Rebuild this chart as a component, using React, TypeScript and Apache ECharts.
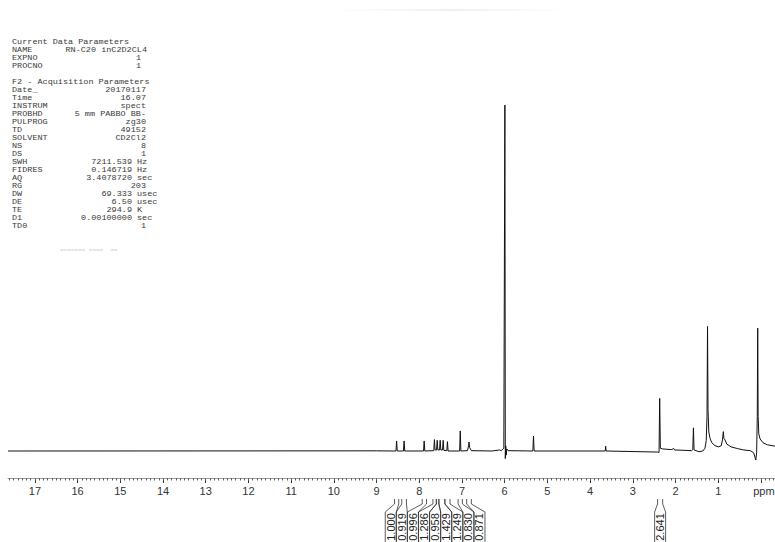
import React, { useEffect, useRef } from "react";
import * as echarts from "echarts";

// ---- Spectrum (chemical shift in ppm, relative intensity) ----
const spectrumPpm = [
  17.63, 9.0, 8.6, 8.545, 8.53, 8.515, 8.37, 8.355, 8.34, 7.9, 7.885, 7.87,
  7.66, 7.645, 7.63, 7.595, 7.58, 7.565, 7.525, 7.51, 7.495, 7.455, 7.44, 7.425,
  7.355, 7.34, 7.325, 7.055, 7.04, 7.025, 6.87, 6.845, 6.835, 6.82, 6.78,
  6.3, 6.12, 6.08, 6.02, 5.995, 5.985, 5.975, 5.965, 5.95, 5.92,
  5.34, 5.325, 5.31, 3.645, 3.635, 3.625,
  2.42, 2.385, 2.37, 2.355, 2.3, 2.1, 2.04, 2.02, 1.8, 1.62, 1.595, 1.58, 1.565,
  1.45, 1.36, 1.31, 1.28, 1.262, 1.25, 1.238, 1.22, 1.19, 1.15, 1.08, 1.0,
  0.93, 0.9, 0.88, 0.865, 0.84, 0.8, 0.7, 0.55, 0.4, 0.25, 0.17, 0.12, 0.1,
  0.085, 0.075, 0.065, 0.05, 0.02, -0.05, -0.15, -0.33,
];
const spectrumIntensity = [
  0, 0.05, 0, 0, 2.9, 0, 0, 2.9, 0, 0, 2.9, 0,
  0.1, 3.3, 0.3, 0.3, 3.1, 0.3, 0.3, 3.1, 0.3, 0.3, 3.1, 0.2,
  0.1, 2.7, 0, 0, 5.8, 0, 0.1, 1.5, 2.6, 1.0, 0.1,
  0, 0.3, 0.1, 0.8, 100, -2.2, 1.5, -1.2, 0.6, 0.1,
  0, 4.3, 0, 0, 1.4, 0,
  -0.3, -0.4, 15.2, 0.8, 0.6, 0.4, 0.7, 0.3, 0.2, 0.1, 0.4, 6.7, 0.3,
  -0.2, 0, 0.8, 3, 10, 36, 12, 5.5, 3.6, 2.4, 1.6, 1.2,
  1.5, 3.2, 5.6, 3.6, 3.2, 2.0, 1.2, 0.7, 0.3, 0.1, -0.5, -2.6, -0.5,
  10, 35.5, 10, 5, 3.5, 2.4, 1.8, 1.4,
];

// ---- Integrated regions ----
const integralFrom = [8.58, 8.41, 7.93, 7.68, 7.6, 7.54, 7.4, 7.09, 6.89, 2.42];
const integralTo = [8.48, 8.3, 7.83, 7.6, 7.54, 7.4, 7.28, 6.99, 6.78, 2.3];
const integralValues = ["1.000", "0.919", "0.996", "1.286", "0.958", "1.429", "1.249", "0.830", "0.871", "2.641"];

// ---- Axis ----
const tickLabels = [17, 16, 15, 14, 13, 12, 11, 10, 9, 8, 7, 6, 5, 4, 3, 2, 1, 0];
const ppmLow = -0.33;
const ppmHigh = 17.63;
const intensityLow = -7.8;
const intensityHigh = 100;

// ---- Acquisition parameter listing ----
const currentTitle = "Current Data Parameters";
const currentKeys = ["NAME", "EXPNO", "PROCNO"];
const currentValues = ["RN-C20 inC2D2CL4", "1", "1"];
const acqTitle = "F2 - Acquisition Parameters";
const acqKeys = ["Date_", "Time", "INSTRUM", "PROBHD", "PULPROG", "TD", "SOLVENT", "NS", "DS", "SWH", "FIDRES", "AQ", "RG", "DW", "DE", "TE", "D1", "TD0"];
const acqValues = ["20170117", "16.07", "spect", "5 mm PABBO BB-", "zg30", "49152", "CD2Cl2", "8", "1", "7211.539", "0.146719", "3.4078720", "203", "69.333", "6.50", "294.9", "0.00100000", "1"];
const acqUnits = ["", "", "", "", "", "", "", "", "", "Hz", "Hz", "sec", "", "usec", "usec", "K", "sec", ""];

const MONO = "'Liberation Mono', 'DejaVu Sans Mono', monospace";
const SANS = "'Liberation Sans', Arial, Helvetica, sans-serif";

// Spread label centres so neighbouring labels keep a minimum gap.
function spreadLabels(centers: number[], gap: number): number[] {
  const order = centers.map((_, i) => i).sort((a, b) => centers[a] - centers[b]);
  const pos = order.map((i) => centers[i]);
  for (let pass = 0; pass < 300; pass++) {
    let moved = false;
    for (let k = 0; k < pos.length - 1; k++) {
      const d = pos[k + 1] - pos[k];
      if (d < gap - 0.01) {
        const s = (gap - d) / 2;
        pos[k] -= s;
        pos[k + 1] += s;
        moved = true;
      }
    }
    if (!moved) break;
  }
  const out = new Array(centers.length);
  order.forEach((i, k) => (out[i] = pos[k]));
  return out;
}

function paramGraphics() {
  const els: any[] = [];
  const x0 = 12;
  const step = 8;
  let y = 42;
  // Courier-like listing, slightly compressed vertically so rows stay apart
  const txt = (x: number, yy: number, text: string, align = "left") => ({
    type: "text",
    x,
    y: yy,
    scaleY: 0.8,
    silent: true,
    style: {
      text,
      fontFamily: MONO,
      fontSize: 8.5,
      lineHeight: 7,
      fill: "#3a3a3a",
      align,
      verticalAlign: "middle",
    },
  });
  els.push(txt(x0, y, currentTitle));
  currentKeys.forEach((k, i) => {
    y += step;
    els.push(txt(x0, y, k));
    els.push(txt(i === 0 ? 147 : 141, y, currentValues[i], "right"));
  });
  y += step * 2;
  els.push(txt(x0, y, acqTitle));
  acqKeys.forEach((k, i) => {
    y += step;
    els.push(txt(x0, y, k));
    if (acqUnits[i]) {
      els.push(txt(132, y, acqValues[i], "right"));
      els.push(txt(137, y, acqUnits[i]));
    } else {
      els.push(txt(146, y, acqValues[i], "right"));
    }
  });
  // faded start of the next block
  els.push({
    type: "text",
    x: 60,
    y: y + step * 3,
    silent: true,
    style: { text: "======= ====  ==", fontFamily: MONO, fontSize: 6, fill: "#d0d0d0", verticalAlign: "middle" },
  });
  // faint strip at the very top
  els.push({
    type: "rect",
    silent: true,
    shape: { x: 330, y: 9, width: 240, height: 2 },
    style: {
      fill: new echarts.graphic.LinearGradient(0, 0, 1, 0, [
        { offset: 0, color: "rgba(0,0,0,0)" },
        { offset: 0.5, color: "rgba(0,0,0,0.06)" },
        { offset: 1, color: "rgba(0,0,0,0)" },
      ]),
    },
  });
  return els;
}

export default function App() {
  const ref = useRef<HTMLDivElement>(null);

  useEffect(() => {
    if (!ref.current) return;
    const chart = echarts.init(ref.current, null, { renderer: "svg" });

    const minorTicks: number[] = [];
    for (let t = -3; t <= 176; t++) minorTicks.push(t / 10);

    const spectrum = spectrumPpm.map((p, i) => [p, spectrumIntensity[i]]);
    const integrals = integralValues.map((v, i) => [integralFrom[i], 0, integralTo[i], v]);

    chart.setOption({
      animation: false,
      backgroundColor: "#ffffff",
      grid: { left: 8, right: 0, top: 105, bottom: 64, containLabel: false, outerBoundsMode: "none" },
      xAxis: [
        {
          type: "value",
          inverse: true,
          min: ppmLow,
          max: ppmHigh,
          position: "bottom",
          splitLine: { show: false },
          axisLine: { show: true, onZero: false, lineStyle: { color: "#9a9a9a", width: 1 } },
          axisTick: { show: true, customValues: tickLabels, length: 5, lineStyle: { color: "#333", width: 1 } },
          axisLabel: {
            show: true,
            customValues: tickLabels,
            margin: 7,
            color: "#333",
            fontSize: 11,
            fontFamily: SANS,
            formatter: (v: number) => (v === 0 ? "{u|ppm}" : String(v)),
            rich: { u: { padding: [0, 0, 0, 6], fontSize: 11, fontFamily: SANS, color: "#333" } },
          },
        },
        {
          type: "value",
          inverse: true,
          min: ppmLow,
          max: ppmHigh,
          position: "bottom",
          offset: 0,
          splitLine: { show: false },
          axisLine: { show: false, onZero: false },
          axisTick: { show: true, customValues: minorTicks, length: 2.5, lineStyle: { color: "#666", width: 1 } },
          axisLabel: { show: false },
        },
      ],
      yAxis: { type: "value", min: intensityLow, max: intensityHigh, show: false },
      series: [
        {
          type: "line",
          xAxisIndex: 0,
          data: spectrum,
          showSymbol: false,
          symbol: "none",
          silent: true,
          lineStyle: { color: "#111", width: 1 },
        },
        {
          type: "custom",
          xAxisIndex: 0,
          clip: false,
          silent: true,
          data: integrals,
          renderItem: (params: any, api: any) => {
            const i = params.dataIndex;
            const centers = integralFrom.map((f, k) => api.coord([(f + integralTo[k]) / 2, 0])[0]);
            const lx = spreadLabels(centers, 11.1)[i];
            const x1 = api.coord([integralFrom[i], 0])[0];
            const x2 = api.coord([integralTo[i], 0])[0];
            const axisY = api.coord([0, intensityLow])[1];
            const top = axisY + 21;
            const e1 = axisY + 26;
            const e2 = axisY + 34;
            const bottom = api.getHeight();
            const hw = 5.5;
            const line = { stroke: "#333", lineWidth: 0.8, fill: "none" };
            return {
              type: "group",
              children: [
                { type: "polyline", shape: { points: [[x1, top], [x1, e1], [lx - hw, e2], [lx - hw, bottom]] }, style: line },
                { type: "polyline", shape: { points: [[x2, top], [x2, e1], [lx + hw, e2], [lx + hw, bottom]] }, style: line },
                {
                  type: "text",
                  x: lx,
                  y: axisY + 49,
                  rotation: Math.PI / 2,
                  style: {
                    text: integralValues[i],
                    fontFamily: SANS,
                    fontSize: 11,
                    fill: "#222",
                    align: "center",
                    verticalAlign: "middle",
                  },
                },
              ],
            };
          },
        },
      ],
      graphic: paramGraphics(),
    });

    return () => chart.dispose();
  }, []);

  return (
    <div
      ref={ref}
      style={{ position: "absolute", left: 0, top: 0, width: 775, height: 542, background: "#fff" }}
    />
  );
}
